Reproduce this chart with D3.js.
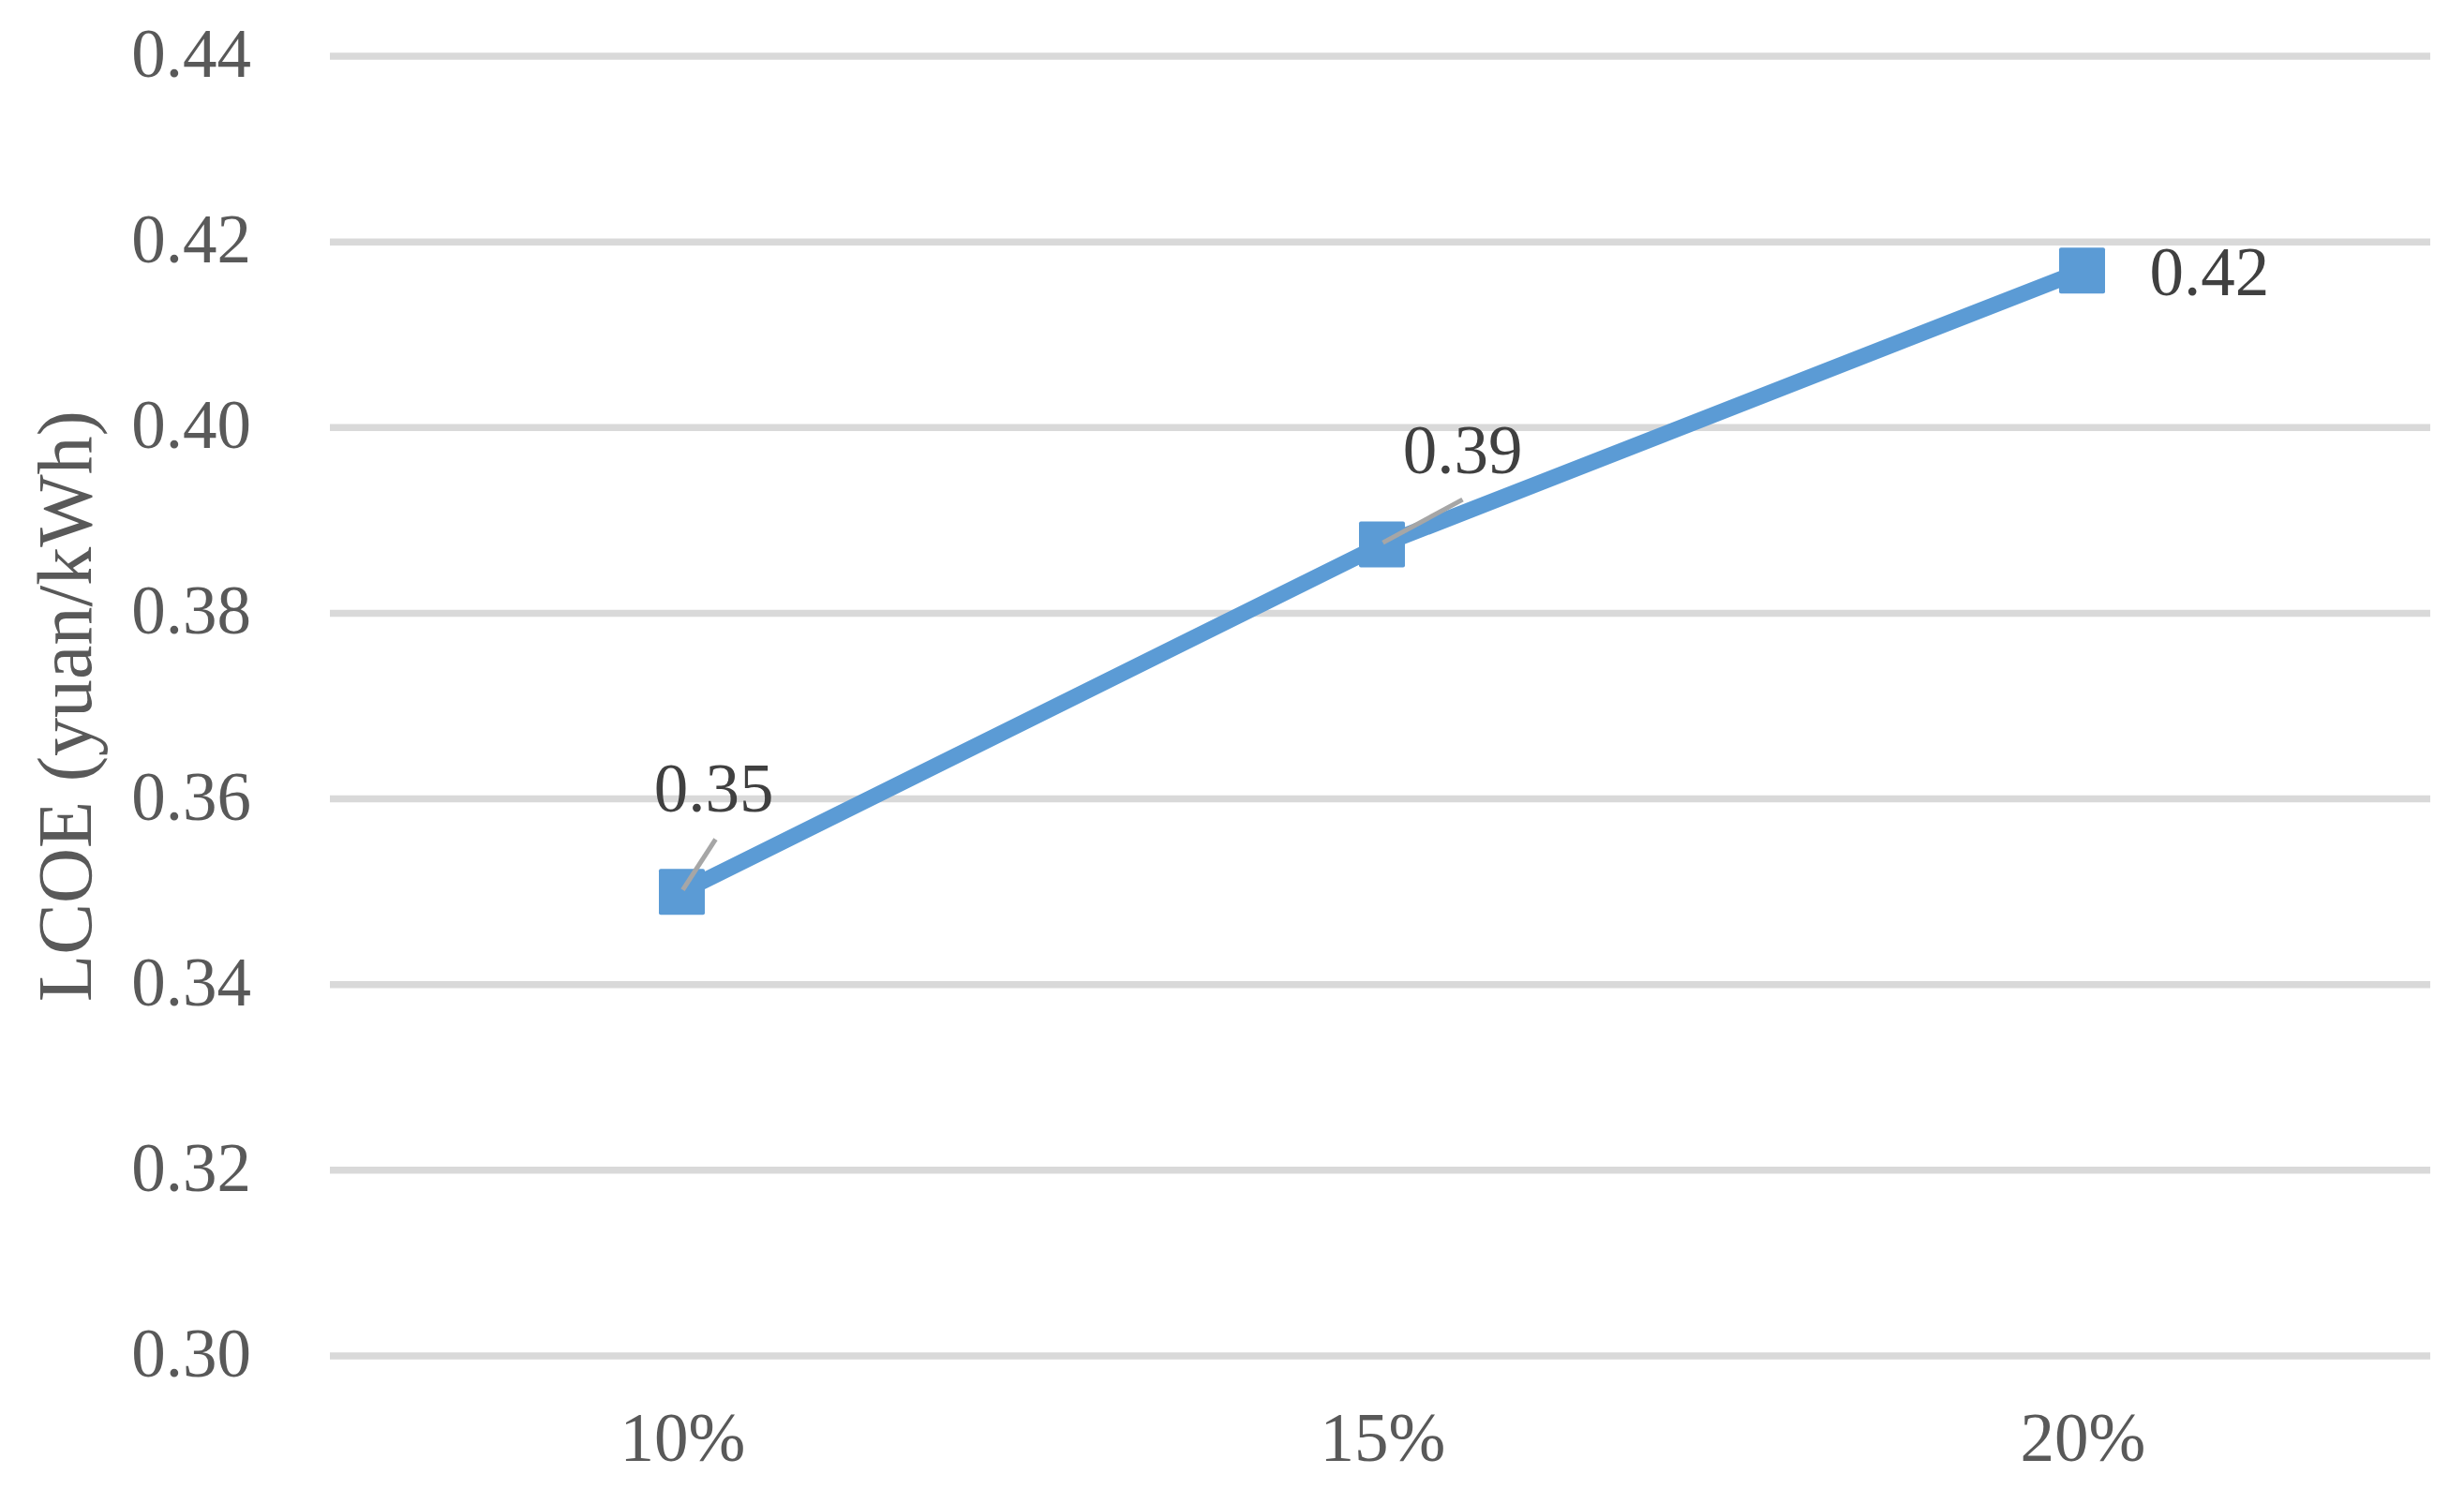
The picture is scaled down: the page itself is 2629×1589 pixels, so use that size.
<!DOCTYPE html>
<html lang="en">
<head>
    <meta charset="UTF-8">
    <title>LCOE line chart</title>
    <style>
        body { margin: 0; background: #fff; }
        text { font-family: "Times New Roman", "Liberation Serif", serif; }
        .grid line { stroke: #d9d9d9; stroke-width: 7.5px; }
        .tick-label { fill: #595959; font-size: 73px; }
        .value-label { fill: #404040; font-size: 73px; }
        .leader { stroke: #a6a6a6; stroke-width: 5px; }
    </style>
</head>
<body>
    <script src="https://d3js.org/d3.v7.min.js"></script>
    <script>
        // data
        const categories = ["10%", "15%", "20%"];
        const lcoe = [0.350, 0.3874, 0.4169];
        const yTicks = [0.30, 0.32, 0.34, 0.36, 0.38, 0.40, 0.42, 0.44];

        const width = 2629, height = 1589;
        const margin = {top: 60, right: 36, bottom: 142, left: 352};

        const svg = d3.select("body").append("svg")
            .attr("width", width)
            .attr("height", height);

        const x = d3.scaleBand()
            .domain(categories)
            .range([margin.left, width - margin.right])
            .padding(0);

        const y = d3.scaleLinear()
            .domain([0.30, 0.44])
            .range([height - margin.bottom, margin.top]);

        // gridlines
        svg.append("g").attr("class", "grid")
            .selectAll("line")
            .data(yTicks)
            .join("line")
            .attr("x1", margin.left)
            .attr("x2", width - margin.right)
            .attr("y1", d => y(d))
            .attr("y2", d => y(d));

        // y tick labels
        svg.append("g")
            .selectAll("text")
            .data(yTicks)
            .join("text")
            .attr("class", "tick-label")
            .attr("x", margin.left - 84)
            .attr("y", d => y(d) + 22)
            .attr("text-anchor", "end")
            .text(d3.format(".2f"));

        // x tick labels
        svg.append("g")
            .selectAll("text")
            .data(categories)
            .join("text")
            .attr("class", "tick-label")
            .attr("x", d => x(d) + x.bandwidth() / 2 + 3)
            .attr("y", y(0.30) + 112)
            .attr("text-anchor", "middle")
            .text(d => d);

        // y axis title
        svg.append("text")
            .attr("transform", `translate(97,${(y(0.30) + y(0.44)) / 2}) rotate(-90)`)
            .attr("text-anchor", "middle")
            .attr("fill", "#595959")
            .style("font-size", "82px")
            .text("LCOE (yuan/kWh)");

        const pts = categories.map((c, i) => ({
            cx: x(c) + x.bandwidth() / 2 + 2,
            cy: y(lcoe[i]),
            v: lcoe[i]
        }));

        // line
        const line = d3.line().x(d => d.cx).y(d => d.cy);
        svg.append("path")
            .datum(pts)
            .attr("d", line)
            .attr("fill", "none")
            .attr("stroke", "#5b9bd5")
            .attr("stroke-width", 17)
            .attr("stroke-linejoin", "round");

        // markers
        const size = 49;
        svg.append("g")
            .selectAll("rect")
            .data(pts)
            .join("rect")
            .attr("x", d => d.cx - size / 2)
            .attr("y", d => d.cy - size / 2)
            .attr("width", size)
            .attr("height", size)
            .attr("rx", 2)
            .attr("fill", "#5b9bd5");

        // data labels, offsets like the Excel label placement
        const labelPos = [
            {dx: 34, dy: -86, anchor: "middle", lead: [36, -56]},
            {dx: 86, dy: -76, anchor: "middle", lead: [86, -48]},
            {dx: 72, dy: 26, anchor: "start", lead: null}
        ];

        pts.forEach((p, i) => {
            const lp = labelPos[i];
            if (lp.lead) {
                svg.append("line")
                    .attr("class", "leader")
                    .attr("x1", p.cx + lp.lead[0])
                    .attr("y1", p.cy + lp.lead[1])
                    .attr("x2", p.cx + 1)
                    .attr("y2", p.cy - 2);
            }
            svg.append("text")
                .attr("class", "value-label")
                .attr("x", p.cx + lp.dx)
                .attr("y", p.cy + lp.dy)
                .attr("text-anchor", lp.anchor)
                .text(p.v.toFixed(2));
        });
    </script>
</body>
</html>
